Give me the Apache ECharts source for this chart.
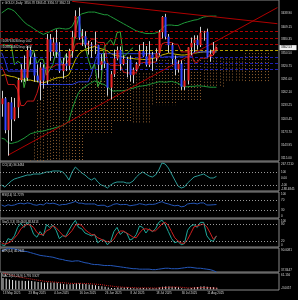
<!DOCTYPE html>
<html>
<head>
<meta charset="utf-8">
<script src="https://cdn.jsdelivr.net/npm/echarts@6/dist/echarts.min.js"></script>
<style>
html, body { margin: 0; padding: 0; background: #000; }
#chart { width: 298px; height: 300px; }
</style>
</head>
<body>
<div id="chart"></div>
<script>
// bars (daily), then empty future slots used by the shifted cloud
var dates = [
    '13 May 2025','14 May 2025','15 May 2025','16 May 2025','19 May 2025','20 May 2025','21 May 2025','22 May 2025','23 May 2025','26 May 2025','27 May 2025','28 May 2025','29 May 2025','30 May 2025',
    '2 Jun 2025','3 Jun 2025','4 Jun 2025','5 Jun 2025','6 Jun 2025','9 Jun 2025','10 Jun 2025','11 Jun 2025','12 Jun 2025','13 Jun 2025','16 Jun 2025','17 Jun 2025','18 Jun 2025','19 Jun 2025','20 Jun 2025','23 Jun 2025','24 Jun 2025','25 Jun 2025','26 Jun 2025','27 Jun 2025','30 Jun 2025',
    '1 Jul 2025','2 Jul 2025','3 Jul 2025','4 Jul 2025','7 Jul 2025','8 Jul 2025','9 Jul 2025','10 Jul 2025','11 Jul 2025','14 Jul 2025','15 Jul 2025','16 Jul 2025','17 Jul 2025','18 Jul 2025','21 Jul 2025','22 Jul 2025','23 Jul 2025','24 Jul 2025','25 Jul 2025','28 Jul 2025','29 Jul 2025','30 Jul 2025','31 Jul 2025',
    '1 Aug 2025','4 Aug 2025','5 Aug 2025','6 Aug 2025','7 Aug 2025','8 Aug 2025','11 Aug 2025','12 Aug 2025','13 Aug 2025','14 Aug 2025'
];
var futureDates = ['15 Aug 2025','18 Aug 2025','19 Aug 2025','20 Aug 2025','21 Aug 2025','22 Aug 2025','25 Aug 2025','26 Aug 2025','27 Aug 2025','28 Aug 2025','29 Aug 2025','1 Sep 2025','2 Sep 2025','3 Sep 2025','4 Sep 2025','5 Sep 2025','8 Sep 2025','9 Sep 2025','10 Sep 2025'];

var opens  = [3236,3249,3178,3240,3202,3229,3290,3314,3295,3357,3342,3300,3289,3318,3289,3381,3353,3374,3353,3310,3326,3322,3355,3386,3433,3385,3388,3369,3369,3368,3368,3324,3332,3327,3273,3303,3338,3357,3326,3337,3336,3301,3313,3325,3355,3343,3324,3347,3339,3350,3397,3431,3387,3368,3337,3314,3326,3275,3289,3363,3373,3380,3368,3396,3398,3342,3348,3356.78];
var highs  = [3266,3252,3240,3252,3250,3295,3325,3345,3366,3365,3350,3325,3330,3325,3393,3393,3385,3403,3375,3340,3350,3360,3400,3446,3452,3404,3399,3378,3375,3398,3369,3348,3350,3328,3310,3358,3365,3365,3345,3342,3345,3318,3330,3369,3375,3366,3377,3353,3361,3402,3433,3438,3393,3373,3345,3334,3334,3315,3363,3385,3390,3390,3409,3400,3405,3358,3375,3363.41];
var lows   = [3208,3171,3121,3154,3198,3205,3285,3286,3288,3325,3286,3285,3245,3271,3280,3333,3344,3340,3306,3293,3310,3312,3340,3385,3380,3366,3362,3347,3340,3348,3295,3312,3317,3255,3247,3297,3334,3311,3323,3296,3287,3283,3310,3322,3341,3320,3319,3310,3332,3345,3383,3381,3351,3325,3301,3307,3268,3268,3281,3346,3352,3358,3364,3378,3341,3331,3347,3356.57];
var closes = [3249,3178,3240,3202,3229,3290,3314,3295,3357,3342,3300,3289,3318,3289,3381,3353,3374,3353,3310,3326,3322,3355,3386,3433,3385,3388,3369,3369,3368,3368,3324,3332,3327,3273,3303,3338,3357,3326,3337,3336,3301,3313,3325,3355,3343,3324,3347,3339,3350,3397,3431,3387,3368,3337,3314,3326,3275,3289,3363,3373,3380,3368,3396,3398,3342,3348,3356,3362.53];

// overlays on price panel
var bbUpper = [3440,3445,3450,3448,3444,3436,3428,3420,3414,3410,3405,3400,3396,3392,3395,3398,3402,3405,3406,3405,3404,3405,3410,3425,3432,3438,3440,3442,3442,3442,3440,3438,3436,3436,3432,3428,3424,3420,3416,3412,3408,3404,3400,3398,3396,3394,3394,3394,3395,3398,3405,3412,3413,3413,3412,3412,3415,3418,3420,3422,3424,3425,3428,3431,3432,3433,3433,3433];
var bbLower = [3160,3158,3150,3148,3150,3152,3156,3160,3165,3170,3172,3174,3175,3176,3178,3180,3182,3184,3186,3188,3192,3200,3225,3245,3262,3270,3275,3280,3284,3288,3285,3282,3280,3275,3268,3265,3266,3266,3266,3268,3270,3272,3274,3276,3277,3278,3280,3282,3284,3286,3286,3285,3286,3287,3285,3283,3278,3275,3275,3276,3276,3277,3277,3276,3275,3274,3274,3274];
var maMid   = [3300,3302,3300,3298,3297,3294,3292,3290,3290,3290,3288,3287,3285,3284,3286,3289,3292,3294,3296,3296,3298,3302,3318,3335,3347,3354,3358,3361,3363,3365,3362,3360,3358,3355,3350,3346,3345,3343,3341,3340,3339,3338,3337,3337,3336,3336,3337,3338,3340,3342,3346,3348,3350,3350,3348,3347,3346,3346,3347,3349,3350,3351,3352,3353,3353,3353,3353,3353];
var tenkan  = [3320,3305,3280,3280,3280,3268,3233,3233,3243,3243,3243,3260,3285,3285,3319,3319,3319,3324,3324,3324,3324,3337,3346,3370,3372,3372,3372,3372,3381,3382,3374,3374,3374,3330,3323,3323,3323,3323,3308,3306,3306,3306,3306,3326,3329,3329,3330,3330,3330,3342,3371,3374,3374,3374,3370,3370,3353,3353,3353,3353,3331,3329,3339,3339,3339,3345,3345,3370];
var kijun   = [3351,3335,3310,3310,3310,3310,3310,3310,3310,3310,3310,3310,3280,3280,3280,3280,3280,3280,3280,3280,3280,3280,3280,3283,3286,3286,3286,3286,3303,3328,3349,3349,3349,3349,3349,3349,3349,3349,3349,3349,3349,3349,3349,3349,3349,3349,3349,3349,3349,3349,3340,3342,3342,3342,3342,3342,3342,3342,3342,3342,3353,3353,3353,3353,3353,3353,3353,3353];
var chikouShift = 26;
// cloud edges, bars 0..83
var spanA = [3040,3050,3060,3065,3070,3080,3085,3090,3095,3110,3175,3245,3280,3292,3295,3295,3297,3297,3296,3295,3295,3296,3308,3308,3308,3308,3308,3308,3308,3308,3308,3308,3308,3308,3308,3308,3308,3308,3308,3308,3308,3305,3305,3305,3305,3305,3305,3305,3335,3335,3335,3335,3335,3335,3335,3335,3335,3335,3335,3335,3335,3335,3335,3340,3340,3340,3340,3340,3340,3338,3338,3338,3338,3338,3338,3338,3357,3357,3357,3357,3357,3357,3357,3357];
var spanB = [3000,3000,3000,3000,3000,3000,3000,3000,3000,3000,3000,3000,3000,3000,3000,3000,3000,3000,3000,3000,3000,3000,3000,3000,3000,3000,3172,3172,3172,3172,3172,3172,3172,3172,3172,3195,3195,3195,3195,3195,3195,3195,3195,3195,3195,3195,3195,3234,3234,3234,3234,3234,3234,3234,3234,3245,3245,3245,3245,3245,3245,3245,3245,3275,3275,3275,3275,3275,3275,3275,3285,3285,3285,3285,3285,3285,3285,3285,3285,3285,3285,3285,3285,3285];
var resistLevels = [3400, 3384, 3371];
var pivotLevel = 3357;
var supportLevels = [3342, 3328, 3315];
var orderLabels = ['#108763030 buy 0.02', '#108804402 buy 0.02'];
var trendUp = [[2, 3122], [86, 3452]];
var trendDown = [[22, 3466], [86, 3416]];
var priceTicks = [3438.90, 3409.15, 3380.35, 3350.50, 3320.75, 3291.00, 3262.10, 3233.25, 3203.45, 3173.70, 3143.95, 3115.00];

// oscillators
var cci = [-103,-135,-87,-39,-6,10,26,42,58,58,74,74,74,90,107,107,123,123,123,107,58,-23,107,187,139,90,58,10,-23,10,-55,-103,-119,-152,-103,-71,-55,-55,-55,-71,-71,-39,26,74,107,74,42,26,58,139,252,236,171,74,-23,-119,-152,-135,-71,-23,26,42,58,74,42,10,10,36];
var rsi = [50,45,51,48,50,55,57,54,58,56,51,49,53,50,58,55,57,54,49,52,52,56,59,64,57,57,54,54,54,54,48,49,49,43,47,53,55,51,52,52,47,49,51,55,53,50,53,52,54,59,63,57,54,50,47,49,43,45,54,56,57,54,58,58,50,50,51,51.7];
var stochK = [8,5,30,25,40,70,85,70,88,75,45,35,55,40,80,70,78,60,30,40,38,60,80,95,70,65,50,45,40,45,15,25,25,8,20,55,70,45,55,50,25,30,45,75,70,50,65,55,65,88,96,80,55,30,15,20,8,12,60,75,80,70,88,88,40,25,20,39.4];
var stochD = [15,10,14,20,32,45,65,75,81,78,70,52,45,43,58,63,76,69,56,43,36,46,59,78,82,77,62,53,45,43,33,28,22,19,18,28,48,57,57,50,43,35,33,50,63,65,62,57,58,69,83,88,77,55,33,22,14,13,27,49,72,75,79,82,72,51,28,38.8];
var atr = [84,86,90.0081,89,88,86,84,83,82,80,78,76,74,73,72,71,70,68,66,65,63,62,61,62,62,60,58,57,55,54,54,53,52,52,52,51,50,49,48,47,46,45,45,44,44,44,44,43,43,44,45,46,46,45,45,45,46,47,48,48,47,46,46,45,44,43,41,37.8447];
var macdMain = [42,40,37,35,33,32,32,31,32,31,29,27,26,24,25,25,25,24,22,20,19,19,20,23,22,21,20,18,17,15,12,11,9,6,5,5,6,6,6,6,5,4,4,5,5,4,4,4,4,6,9,10,10,9,8,7,4,2,3,5,7,8,10,11,9,8,7,5.776];
var macdSignal = [61.156,58,55,52,49,46,44,42,40,38,36,34,32,30,29,28,27,26,25,24,23,22,22,22,22,22,21,21,20,19,18,17,15,13,12,10,9,8,7,7,6,6,5,5,5,5,5,4.5,4.5,5,5.5,6.5,7.5,8,8,8,7,6,5,5,5,5.5,6,6.5,6,5,4.5,3.927];

var cciTicks = [[267.7210, '267.7210'], [100, '100'], [0, '0.00'], [-100, '-100'], [-188, '-188.4845']];
var rsiTicks = [[100, '100'], [70, '70'], [30, '30'], [0, '0']];
var stochTicks = [[100, '100'], [80, '80'], [20, '20'], [0, '0']];
var atrTicks = [[90.0081, '90.0081'], [37.8447, '37.8447']];
var macdTicks = [[61.156, '61.156'], [-3, '-3.0057']];

var allDates = dates.concat(futureDates);
var lastIdx = closes.length - 1;
var FONT = 'Liberation Sans';
var TXT = '#d8d8d8';

var chart = echarts.init(document.getElementById('chart'), null, { renderer: 'canvas' });

var panels = [
    { top: 0, height: 161, min: 3109, max: 3469 },
    { top: 162, height: 29, min: -200, max: 268 },
    { top: 192, height: 26, min: 0, max: 100 },
    { top: 219, height: 28, min: 0, max: 100 },
    { top: 248, height: 24, min: 37.8447, max: 90.0081 },
    { top: 273, height: 17, min: -3, max: 61.156 }
];

var grids = panels.map(function (p) {
    return { left: -1, right: 19, top: p.top, height: p.height, show: true, borderColor: '#8a8a8a', borderWidth: 1, backgroundColor: 'transparent' };
});
var xAxes = panels.map(function (p, i) {
    var bottom = i === panels.length - 1;
    return {
        type: 'category', gridIndex: i, data: allDates, boundaryGap: true,
        axisLine: { show: false }, axisTick: { show: false }, splitLine: { show: false },
        axisLabel: bottom ? {
            show: true, color: TXT, fontSize: 3, fontFamily: FONT, margin: 2, align: 'left',
            interval: function (idx) { return idx % 8 === 0 && idx <= 64; }
        } : { show: false }
    };
});
var yAxes = panels.map(function (p, i) {
    return {
        type: 'value', gridIndex: i, position: 'right', min: p.min, max: p.max, scale: true,
        axisLine: { show: false }, axisTick: { show: false }, axisLabel: { show: false }, splitLine: { show: false }
    };
});

function seq(arr) {
    return arr.map(function (v, i) { return [i, v]; });
}

function lineSeries(gi, arr, color, extra) {
    var s = {
        type: 'line', xAxisIndex: gi, yAxisIndex: gi, data: seq(arr), showSymbol: false, symbol: 'none',
        silent: true, animation: false, lineStyle: { color: color, width: 1 }, z: 3
    };
    return Object.assign(s, extra || {});
}

// text labels on the right scale, placed by the axis
function scaleLabels(gi, ticks) {
    return {
        type: 'custom', xAxisIndex: gi, yAxisIndex: gi, silent: true, animation: false, z: 20,
        data: ticks.map(function (t) { return [0, t[0]]; }),
        renderItem: function (params, api) {
            var cs = params.coordSys;
            var pt = api.coord([0, api.value(1)]);
            var y = Math.max(cs.y + 2, Math.min(cs.y + cs.height - 2, pt[1]));
            return {
                type: 'text',
                style: { x: cs.x + cs.width + 2, y: y, text: ticks[params.dataIndex][1], fill: TXT, font: '3px "' + FONT + '"', verticalAlign: 'middle' }
            };
        }
    };
}

var candleData = opens.map(function (o, i) { return [i, o, closes[i], lows[i], highs[i]]; });
var cloudData = spanA.map(function (a, i) { return [i, a, spanB[i]]; });
var chikou = closes.slice(chikouShift).map(function (v, i) { return [i, v]; });

function levelLine(v, color, label) {
    var d = { yAxis: v, lineStyle: { color: color, type: [3, 2], width: 1 } };
    if (label) {
        d.label = { show: true, position: 'insideStartTop', formatter: label, color: TXT, fontSize: 3.2, fontFamily: FONT, distance: [1, 1] };
    }
    return d;
}

var levels = [];
resistLevels.forEach(function (v, i) { levels.push(levelLine(v, '#b00000', i === 2 ? orderLabels[0] : null)); });
levels.push(levelLine(pivotLevel, '#b8a000', orderLabels[1]));
supportLevels.forEach(function (v) { levels.push(levelLine(v, '#2020b8')); });
levels.push([{ coord: trendUp[0] }, { coord: trendUp[1] }]);
levels.push([{ coord: trendDown[0] }, { coord: trendDown[1] }]);

var series = [
    {
        type: 'custom', xAxisIndex: 0, yAxisIndex: 0, data: cloudData, silent: true, animation: false, z: 1,
        renderItem: function (params, api) {
            var cs = params.coordSys;
            var a = api.coord([api.value(0), api.value(1)]);
            var b = api.coord([api.value(0), api.value(2)]);
            var y1 = Math.max(cs.y, Math.min(a[1], b[1]));
            var y2 = Math.min(cs.y + cs.height, Math.max(a[1], b[1]));
            if (y2 <= y1) return null;
            var x = Math.round(a[0]) + 0.5;
            return { type: 'line', shape: { x1: x, y1: y1, x2: x, y2: y2 }, style: { stroke: '#a87038', lineWidth: 1, lineDash: [1, 2], opacity: 0.85 } };
        }
    },
    lineSeries(0, bbUpper, '#1f9a3a'),
    lineSeries(0, bbLower, '#1f9a3a'),
    lineSeries(0, maMid, '#c8b400'),
    lineSeries(0, kijun, '#2b3cd8'),
    lineSeries(0, tenkan, '#c81818'),
    { type: 'line', xAxisIndex: 0, yAxisIndex: 0, data: chikou, showSymbol: false, symbol: 'none', silent: true, animation: false, lineStyle: { color: '#3aa83a', width: 1 }, z: 3 },
    {
        type: 'custom', xAxisIndex: 0, yAxisIndex: 0, data: candleData, silent: true, animation: false, z: 5,
        renderItem: function (params, api) {
            var i = api.value(0);
            var o = api.coord([i, api.value(1)]);
            var c = api.coord([i, api.value(2)]);
            var l = api.coord([i, api.value(3)]);
            var h = api.coord([i, api.value(4)]);
            var up = api.value(2) >= api.value(1);
            var x = Math.round(o[0]) + 0.5;
            var top = Math.min(o[1], c[1]);
            var bot = Math.max(o[1], c[1]);
            return {
                type: 'group',
                children: [
                    { type: 'line', shape: { x1: x, y1: h[1], x2: x, y2: l[1] }, style: { stroke: '#cfcfcf', lineWidth: 1 } },
                    { type: 'rect', shape: { x: x - 1, y: top, width: 2, height: Math.max(bot - top, 1) }, style: { fill: up ? '#f02828' : '#3446ff' } }
                ]
            };
        },
        markLine: { silent: true, symbol: 'none', animation: false, label: { show: false }, lineStyle: { color: '#b00000', width: 1, type: 'solid' }, data: levels }
    },
    {
        type: 'custom', xAxisIndex: 0, yAxisIndex: 0, silent: true, animation: false, z: 21,
        data: [[lastIdx, closes[lastIdx]]],
        renderItem: function (params, api) {
            var cs = params.coordSys;
            var pt = api.coord([lastIdx, api.value(1)]);
            return {
                type: 'group', children: [
                    { type: 'rect', shape: { x: cs.x + cs.width + 0.5, y: pt[1] - 2.5, width: 17, height: 5 }, style: { fill: '#f0f0f0' } },
                    { type: 'text', style: { x: cs.x + cs.width + 2, y: pt[1], text: closes[lastIdx].toFixed(2), fill: '#000', font: '3px "' + FONT + '"', verticalAlign: 'middle' } }
                ]
            };
        }
    },
    scaleLabels(0, priceTicks.map(function (v) { return [v, v.toFixed(2)]; })),

    lineSeries(1, cci, '#2a9a96', { markLine: { silent: true, symbol: 'none', animation: false, label: { show: false }, lineStyle: { color: '#9a9a9a', type: [1, 2], width: 1 }, data: [{ yAxis: 100 }, { yAxis: -100 }] } }),
    scaleLabels(1, cciTicks),

    lineSeries(2, rsi, '#2456b8', { markLine: { silent: true, symbol: 'none', animation: false, label: { show: false }, lineStyle: { color: '#9a9a9a', type: [1, 2], width: 1 }, data: [{ yAxis: 70 }, { yAxis: 30 }] } }),
    scaleLabels(2, rsiTicks),

    lineSeries(3, stochK, '#1fa89a', { markLine: { silent: true, symbol: 'none', animation: false, label: { show: false }, lineStyle: { color: '#9a9a9a', type: [1, 2], width: 1 }, data: [{ yAxis: 80 }, { yAxis: 20 }] } }),
    lineSeries(3, stochD, '#d02020'),
    scaleLabels(3, stochTicks),

    lineSeries(4, atr, '#2456b8'),
    scaleLabels(4, atrTicks),

    { type: 'bar', xAxisIndex: 5, yAxisIndex: 5, data: seq(macdMain), barWidth: 1, silent: true, animation: false, itemStyle: { color: '#e8e8e8' } },
    lineSeries(5, macdSignal, '#d02020', { lineStyle: { color: '#d02020', width: 1, type: [1, 1] } }),
    scaleLabels(5, macdTicks)
];

var titles = [
    ['\u25BE GOLD#,Daily  3356.78 3363.41 3356.57 3362.53', 2, 3],
    ['CCI(14) 36.3484', 2, 165],
    ['RSI(14) 51.7279', 2, 195],
    ['Sto(5,3,3) 39.4408 38.8413', 2, 222],
    ['ATR(14) 40.2621', 2, 251],
    ['MACD(12,26,9) 5.776 3.927', 2, 276]
];

var option = {
    backgroundColor: '#000',
    animation: false,
    grid: grids,
    xAxis: xAxes,
    yAxis: yAxes,
    series: series,
    graphic: titles.map(function (t) {
        return { type: 'text', left: t[1], top: t[2] - 1.5, silent: true, z: 30, style: { text: t[0], fill: TXT, font: '3px "' + FONT + '"' } };
    })
};
chart.setOption(option);
</script>
</body>
</html>
